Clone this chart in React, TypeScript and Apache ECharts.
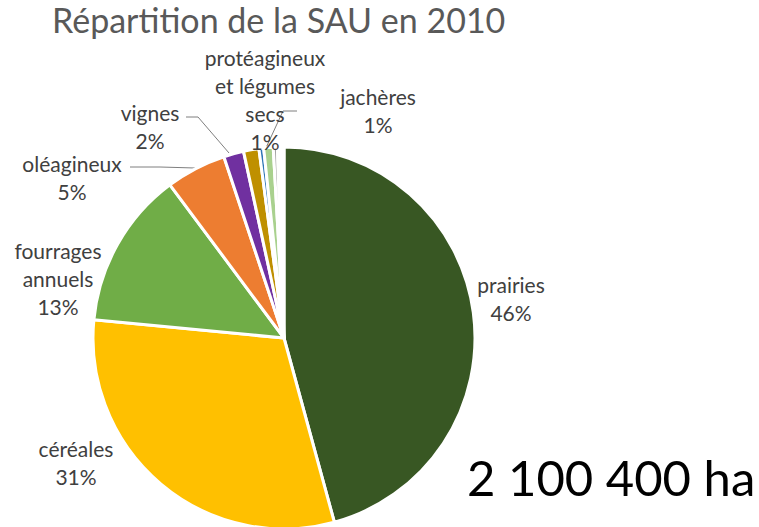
import React, { useEffect, useRef } from "react";
import * as echarts from "echarts";

const titleText = "Répartition de la SAU en 2010";
const totalText = "2 100 400 ha";

const categories = [
  "prairies",
  "céréales",
  "fourrages annuels",
  "oléagineux",
  "vignes",
  "cultures industrielles",
  "légumes frais",
  "protéagineux et légumes secs",
  "autres",
  "jachères",
];
const values = [45.8, 30.8, 13.3, 5.1, 1.7, 1.3, 0.4, 0.8, 0.35, 0.55];
const labelTexts = [
  "prairies",
  "céréales",
  "fourrages\nannuels",
  "oléagineux",
  "vignes",
  "",
  "",
  "protéagineux\net légumes\nsecs",
  "",
  "jachères",
];
const colors = [
  "#385723",
  "#FFC000",
  "#70AD47",
  "#ED7D31",
  "#7030A0",
  "#BF9000",
  "#2E75B6",
  "#A9D18E",
  "#A5A5A5",
  "#FFFFFF",
];

// label layout (centre of each label block), and leader line points
const labelCentres: Record<number, [number, number]> = {
  0: [511, 298],
  1: [76, 462],
  2: [58, 278],
  3: [72, 177],
  4: [150, 126],
  7: [265, 99],
  9: [378, 110],
};
const leaderLines: Record<number, number[][]> = {
  3: [[195, 168], [160, 167], [130, 167]],
  4: [[229, 153], [198, 117], [186, 117]],
  7: [[265, 150], [283, 111], [297, 111]],
};

export default function App() {
  const ref = useRef<HTMLDivElement>(null);
  useEffect(() => {
    if (!ref.current) return;
    const chart = echarts.init(ref.current, undefined, { renderer: "svg" });
    const data = categories.map((name, i) => ({
      name,
      value: values[i],
      itemStyle: { color: colors[i] },
      label: { show: labelTexts[i] !== "" },
      labelLine: { show: !!leaderLines[i] },
    }));
    chart.setOption({
      animation: false,
      backgroundColor: "#ffffff",
      graphic: [
        {
          type: "text",
          left: 52,
          top: 2,
          style: {
            text: titleText,
            font: '34px Lato',
            fill: "#595959",
          },
        },
        {
          type: "text",
          left: 467,
          top: 452,
          style: {
            text: totalText,
            font: '49px Lato',
            fill: "#000000",
          },
        },
      ],
      series: [
        {
          type: "pie",
          center: [284, 338],
          radius: 191,
          startAngle: 90,
          clockwise: true,
          avoidLabelOverlap: false,
          itemStyle: { borderColor: "#ffffff", borderWidth: 3 },
          label: {
            position: "outside",
            fontFamily: "Lato",
            fontSize: 21,
            lineHeight: 28,
            color: "#404040",
            align: "center",
            formatter: (p: any) =>
              `${labelTexts[p.dataIndex]}\n${Math.round(p.percent)}%`,
          },
          labelLine: {
            show: true,
            lineStyle: { color: "#7F7F7F", width: 1 },
          },
          labelLayout: (params: any) => {
            const c = labelCentres[params.dataIndex];
            if (!c) return {};
            const res: any = {
              x: c[0],
              y: c[1],
              align: "center",
              verticalAlign: "middle",
            };
            if (leaderLines[params.dataIndex]) {
              res.labelLinePoints = leaderLines[params.dataIndex];
            }
            return res;
          },
          data,
        },
      ],
    });
    return () => chart.dispose();
  }, []);
  return (
    <div
      ref={ref}
      style={{ position: "fixed", left: 0, top: 0, width: 759, height: 527 }}
    />
  );
}
